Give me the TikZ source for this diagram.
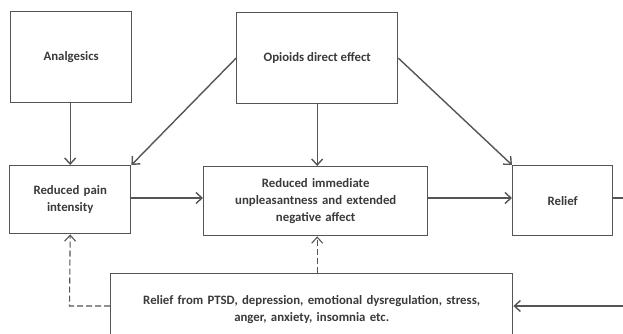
\documentclass[tikz,border=0pt]{standalone}
\usepackage{fontspec}
\setmainfont{Carlito}
\usetikzlibrary{arrows.meta}
\begin{document}
\begin{tikzpicture}[x=1pt,y=-1pt,
  box/.style={draw=linegray,line width=1.4pt,anchor=north west,inner sep=2pt,align=center,text=textgray,font=\fontsize{12.8}{17}\selectfont\bfseries},
  conn/.style={draw=linegray,line width=1.4pt,-{Straight Barb[length=6pt,width=11pt]}},
  dconn/.style={conn,line width=1.1pt,dash pattern=on 6pt off 3pt}]
\definecolor{linegray}{HTML}{555555}
\definecolor{textgray}{HTML}{3A3A3A}
\useasboundingbox (0,0) rectangle (623,334);
\clip (0,0) rectangle (623,334);
\node[box,minimum width=121pt,minimum height=91pt] (anal) at (10,11) {Analgesics};
\node[box,minimum width=161pt,minimum height=91pt] (opi) at (236,12) {Opioids direct effect};
\node[box,minimum width=121pt,minimum height=68pt,text width=110pt] (pain) at (9,165) {Reduced pain\\intensity};
\node[box,minimum width=224pt,minimum height=69pt,text width=215pt] (mid) at (203,166) {Reduced immediate\\unpleasantness and extended\\negative affect};
\node[box,minimum width=100pt,minimum height=70pt] (rel) at (512,165) {Relief};
\node[box,minimum width=402pt,minimum height=72pt,text width=390pt] (ptsd) at (110,273) {Relief from PTSD, depression, emotional dysregulation, stress,\\anger, anxiety, insomnia etc.};
\coordinate (relout) at (623,198);
\coordinate (rightin) at (623,306);
\coordinate (dleft) at (69.5,306);
\draw[conn] (anal.south -| pain.north) -- (pain.north);
\draw[conn] (opi.west) -- (pain.north east);
\draw[conn] (opi.south) -- (mid.north -| opi.south);
\draw[conn] (opi.east) -- (rel.north west);
\draw[conn] (pain.east |- 0,198) -- (mid.west |- 0,198);
\draw[conn] (mid.east |- 0,198) -- (rel.west |- 0,198);
\draw[draw=linegray,line width=1.4pt] (rel.east |- relout) -- (relout);
\draw[conn] (rightin) -- (ptsd.east |- rightin);
\draw[dconn] (ptsd.north -| opi.south) -- (mid.south -| opi.south);
\draw[dconn] (ptsd.west |- dleft) -- (dleft) -- (pain.south);
\end{tikzpicture}
\end{document}
